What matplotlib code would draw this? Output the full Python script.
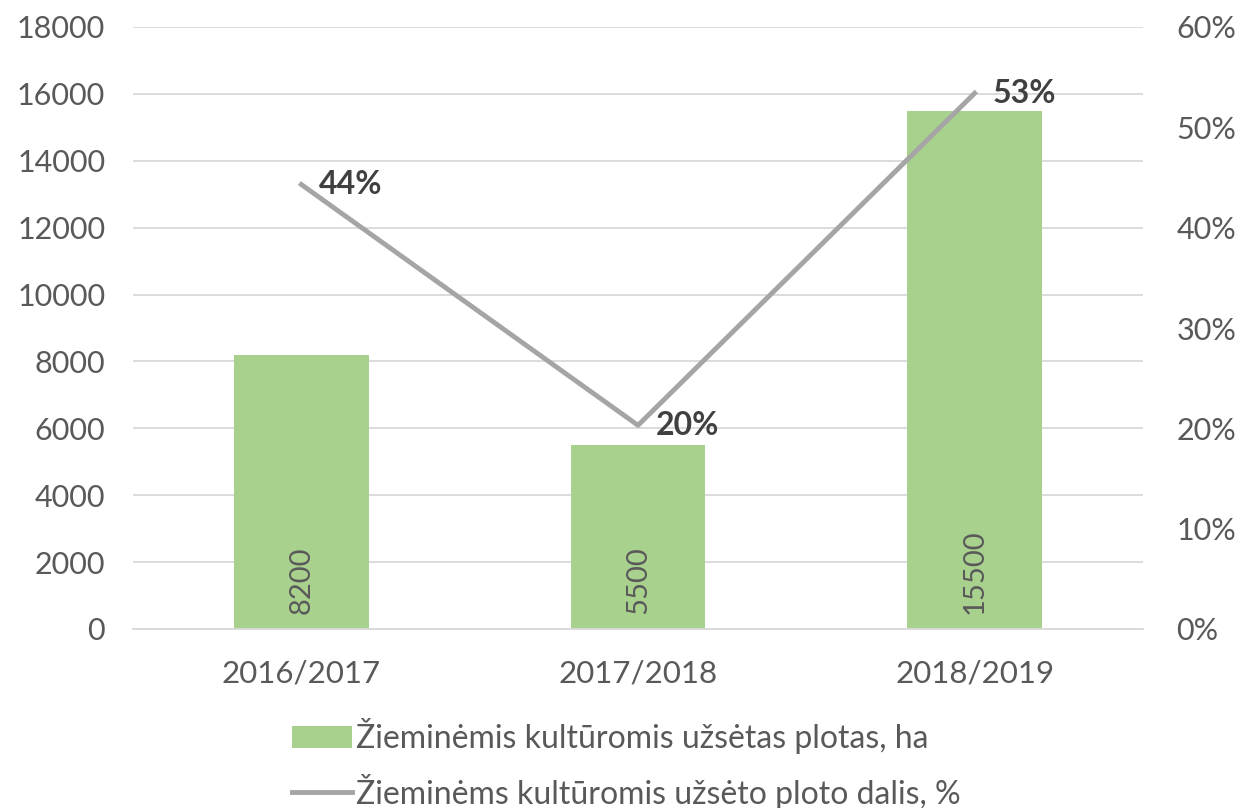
import matplotlib
matplotlib.use("Agg")
import matplotlib.pyplot as plt
from matplotlib.ticker import FuncFormatter, MultipleLocator
from matplotlib.lines import Line2D
from matplotlib.patches import Patch

categories = ["2016/2017", "2017/2018", "2018/2019"]
area_ha = [8200, 5500, 15500]
share = [0.443, 0.203, 0.534]
share_labels = ["44%", "20%", "53%"]
bar_name = "Žieminėmis kultūromis užsėtas plotas, ha"
line_name = "Žieminėms kultūromis užsėto ploto dalis, %"

plt.rcParams['font.family'] = ['Lato', 'DejaVu Sans']
txt = "#595959"

fig = plt.figure(figsize=(12.4, 8.08), dpi=100)
ax = fig.add_axes([133/1240, 1-629/808, (1143-133)/1240, (629-27)/808])
x = list(range(len(categories)))
ax.bar(x, area_ha, width=0.4, color="#a9d18e", zorder=2)
ax.set_xlim(-0.5, 2.5)
ax.set_ylim(0, 18000)
ax.yaxis.set_major_locator(MultipleLocator(2000))
ax.grid(axis="y", color="#d9d9d9", linewidth=1.3, zorder=0)
for s in ["top", "right", "left"]:
    ax.spines[s].set_visible(False)
ax.spines["bottom"].set_color("#d9d9d9")
ax.spines["bottom"].set_linewidth(1.3)
ax.set_xticks(x)
ax.set_xticklabels(categories)
ax.tick_params(axis="both", length=0, labelsize=22, labelcolor=txt)
ax.tick_params(axis="x", labelsize=22.5, pad=22)
ax.tick_params(axis="y", pad=20)
for xi, v in zip(x, area_ha):
    ax.text(xi, 450, f"{v}", rotation=90, ha="center", va="bottom",
            fontsize=21, color=txt, zorder=3)

ax2 = ax.twinx()
ax2.plot(x, share, color="#a5a5a5", linewidth=3.5, zorder=4)
ax2.set_ylim(0, 0.6)
ax2.yaxis.set_major_locator(MultipleLocator(0.1))
ax2.yaxis.set_major_formatter(FuncFormatter(lambda v, p: f"{v*100:.0f}%"))
for s in ["top", "right", "left", "bottom"]:
    ax2.spines[s].set_visible(False)
ax2.tick_params(axis="y", length=0, labelsize=22, labelcolor=txt, pad=24)
for xi, v, lab in zip(x, share, share_labels):
    ax2.annotate(lab, (xi, v), xytext=(13, 0), textcoords="offset points",
                 ha="left", va="center", fontsize=23, fontweight="bold",
                 color="#404040", zorder=5)

handles = [Patch(facecolor="#a9d18e", edgecolor="none"),
           Line2D([0], [0], color="#a5a5a5", linewidth=3.5)]
fig.legend(handles, [bar_name, line_name], loc="center",
           bbox_to_anchor=(626/1240, 1-(738+790)/2/808), ncol=1, frameon=False,
           fontsize=23, labelcolor=txt, handlelength=1.9, handletextpad=0.1,
           labelspacing=0.6)

fig.savefig("out.png", dpi=100)
